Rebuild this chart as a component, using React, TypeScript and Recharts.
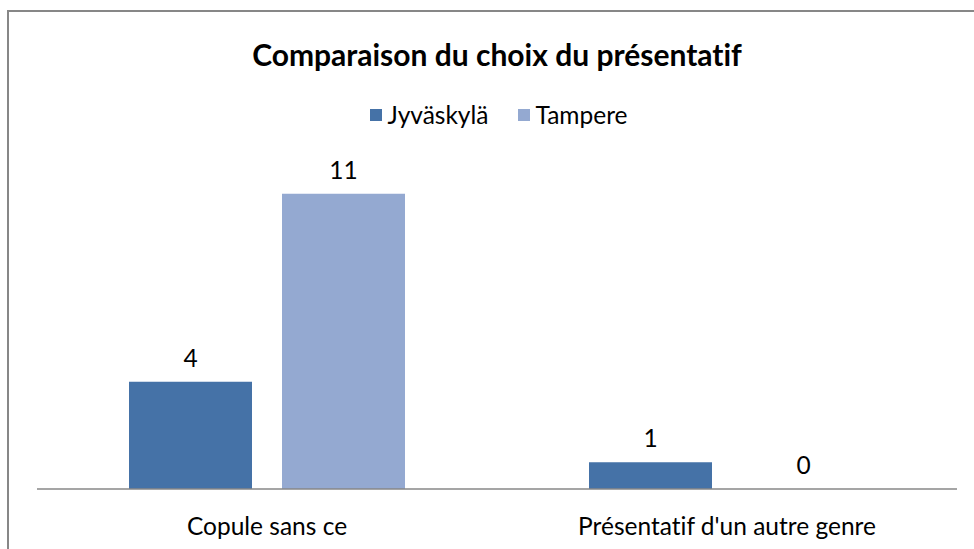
import React from "react";
import { BarChart, Bar, XAxis, YAxis, LabelList } from "recharts";

const categories = ["Copule sans ce", "Présentatif d'un autre genre"];
const jyvaskyla = [4, 1];
const tampere = [11, 0];
const seriesNames = ["Jyväskylä", "Tampere"];
const seriesColors = ["#4572A7", "#94A9D1"];
const title = "Comparaison du choix du présentatif";

const data = categories.map((c, i) => ({ name: c, j: jyvaskyla[i], t: tampere[i] }));

const FONT = "Lato, 'Open Sans', sans-serif";
const FS = 24.5;

const Tick = (props: any) => {
  const { x, y, payload } = props;
  return (
    <text x={x} y={y} dy={38} textAnchor="middle" fill="#000" fontSize={FS} fontFamily={FONT}>
      {payload.value}
    </text>
  );
};

const ValueLabel = (props: any) => {
  const { viewBox, value } = props;
  if (!viewBox) return null;
  const { x, y, width, height } = viewBox;
  const top = Math.min(y, y + (height || 0));
  return (
    <text x={x + width / 2} y={top - 15} textAnchor="middle" fill="#000" fontSize={FS} fontFamily={FONT}>
      {String(value)}
    </text>
  );
};

export default function App() {
  return (
    <div style={{ position: "relative", width: 974, height: 549, overflow: "hidden", background: "#fff" }}>
      <style>{`body{margin:0;overflow:hidden;background:#fff} svg text, div{font-variant-ligatures:none}`}</style>
      <div
        style={{
          position: "absolute",
          left: 7,
          top: 10,
          width: 1100,
          height: 700,
          border: "2px solid #878787",
          boxSizing: "border-box",
        }}
      />
      <div
        style={{
          position: "absolute",
          left: 0,
          width: 994,
          top: 34,
          textAlign: "center",
          fontFamily: FONT,
          fontWeight: 700,
          fontSize: 30,
          lineHeight: "40px",
          color: "#000",
        }}
      >
        {title}
      </div>
      <div
        style={{
          position: "absolute",
          left: 0,
          width: 998,
          top: 100,
          display: "flex",
          justifyContent: "center",
          alignItems: "center",
          fontFamily: FONT,
          fontSize: FS,
          lineHeight: "30px",
          color: "#000",
        }}
      >
        {seriesNames.map((n, i) => (
          <div key={n} style={{ display: "flex", alignItems: "center", marginRight: i === 0 ? 30 : 0 }}>
            <div style={{ width: 12, height: 12, background: seriesColors[i], marginRight: 5 }} />
            <span>{n}</span>
          </div>
        ))}
      </div>
      <div style={{ position: "absolute", left: 0, top: 0 }}>
        <BarChart
          width={974}
          height={549}
          data={data}
          margin={{ top: 167, right: 17, bottom: 0, left: 37 }}
          barCategoryGap="20%"
          barGap={30}
        >
          <XAxis
            dataKey="name"
            height={60}
            tickLine={false}
            axisLine={{ stroke: "#878787", strokeWidth: 1.5 }}
            tick={<Tick />}
            interval={0}
          />
          <YAxis hide domain={[0, 12]} />
          <Bar dataKey="j" name={seriesNames[0]} fill={seriesColors[0]} minPointSize={0.01} isAnimationActive={false}>
            <LabelList dataKey="j" content={<ValueLabel />} />
          </Bar>
          <Bar dataKey="t" name={seriesNames[1]} fill={seriesColors[1]} minPointSize={0.01} isAnimationActive={false}>
            <LabelList dataKey="t" content={<ValueLabel />} />
          </Bar>
        </BarChart>
      </div>
    </div>
  );
}
